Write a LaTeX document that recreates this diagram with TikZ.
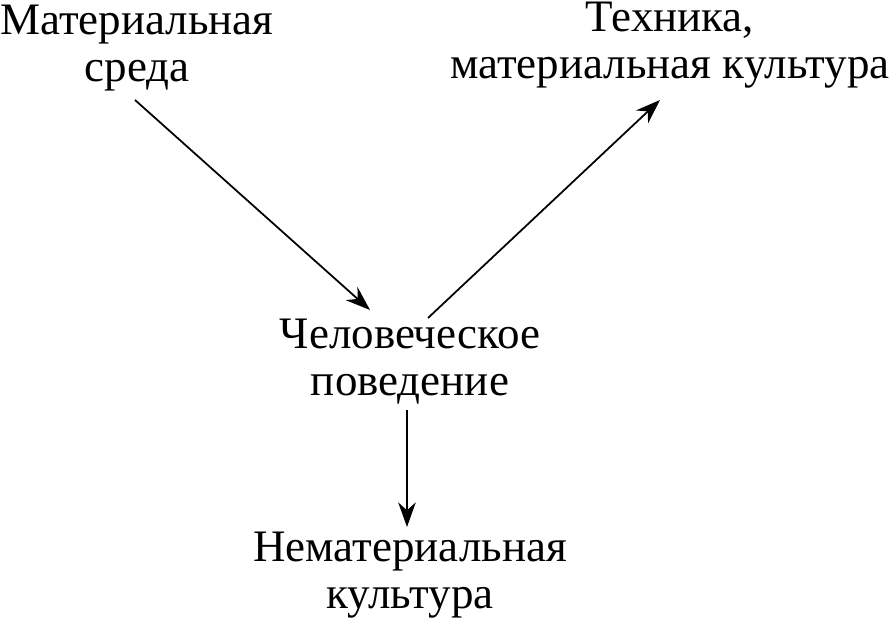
\documentclass[tikz,border=0pt]{standalone}
\usepackage{fontspec}
\setmainfont{Liberation Serif}
\usetikzlibrary{arrows.meta}
\begin{document}
\begin{tikzpicture}[x=0.01cm,y=-0.01cm]
\tikzstyle{label} = [align=center, inner sep=0pt, font=\fontsize{12.8}{13.4}\selectfont]
\tikzstyle{link} = [line width=0.5pt, -{Stealth[length=7pt,width=5pt]}]
\useasboundingbox (0,0) rectangle (890,619);

\node[label] (env) at (137,48) {Материальная\\среда};
\node[label] (tech) at (670,45) {Техника,\\материальная культура};
\node[label] (beh) at (410,362) {Человеческое\\поведение};
\node[label] (nonmat) at (410,575) {Нематериальная\\культура};

\coordinate (envout) at (135,100);
\coordinate (behin) at (370,310);
\coordinate (behout) at (428,318);
\coordinate (techin) at (660,100);
\coordinate (behdown) at (407,410);
\coordinate (nonmatin) at (407,527);

\draw[link] (envout)--(behin);
\draw[link] (behout)--(techin);
\draw[link] (behdown)--(nonmatin);
\end{tikzpicture}
\end{document}
